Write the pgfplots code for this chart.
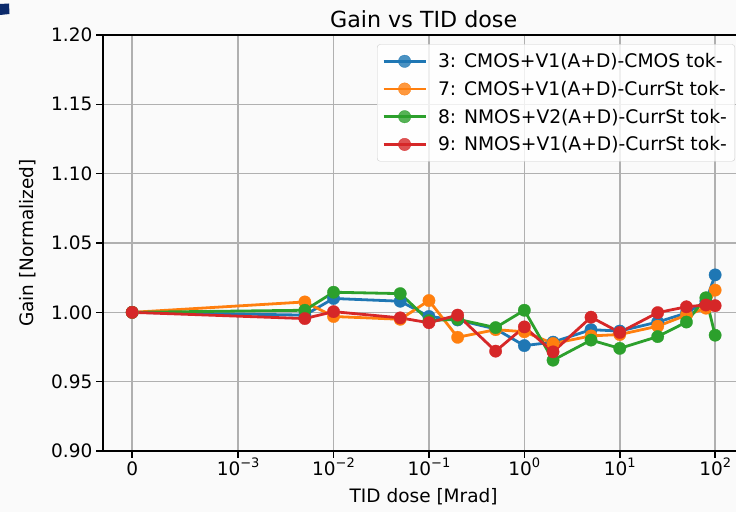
\documentclass[border=0pt]{standalone}
\usepackage{fontspec}
\setmainfont{DejaVu Sans}
\usepackage{pgfplots}
\pgfplotsset{compat=1.18}
\usepackage{pgfplotstable}
\definecolor{tabblue}{HTML}{1F77B4}
\definecolor{taborange}{HTML}{FF7F0E}
\definecolor{tabgreen}{HTML}{2CA02C}
\definecolor{tabred}{HTML}{D62728}
\definecolor{gridgray}{HTML}{B0B0B0}
\definecolor{bgc}{HTML}{FAFAFA}
\definecolor{navy}{HTML}{0B2A6B}
\newcommand\tp[1]{10\raisebox{0.42em}{\fontsize{13}{13}\selectfont #1}}
% pos = symlog position (linthresh 1e-3): 0 -> 0, x -> 1.1111+log10(x/1e-3)
\pgfplotstableread{
pos    dose   blue    orange  green   red
0      0      1.000   1.000   1.000   1.000
1.810  0.005  0.998   1.0075  1.0015  0.9955
2.111  0.01   1.010   0.997   1.0145  1.0005
2.810  0.05   1.008   0.995   1.0135  0.996
3.111  0.1    0.997   1.0085  0.994   0.9925
3.412  0.2    0.9945  0.982   0.995   0.998
3.810  0.5    0.988   0.9875  0.989   0.972
4.111  1      0.976   0.986   1.0015  0.9895
4.412  2      0.9785  0.9775  0.9655  0.9715
4.810  5      0.9875  0.983   0.980   0.9965
5.111  10     0.9865  0.984   0.974   0.9855
5.509  25     0.993   0.990   0.9825  0.9998
5.810  50     0.9995  0.998   0.993   1.004
6.014  80     1.008   1.003   1.0105  1.0053
6.111  100    1.027   1.016   0.9835  1.0048
}\data
\begin{document}
\begin{tikzpicture}
\useasboundingbox (0,0) rectangle (736pt,512pt);
\fill[bgc] (0,0) rectangle (736pt,512pt);
\fill[navy] (0pt,497pt) -- (9.5pt,498pt) -- (9pt,508.5pt) -- (0pt,508pt) -- cycle;
\begin{axis}[
  at={(103pt,61pt)}, anchor=south west,
  scale only axis, width=641.3pt, height=416pt,
  xmin=-0.3056, xmax=6.4167, ymin=0.9, ymax=1.2,
  xtick={0,1.1111,2.1111,3.1111,4.1111,5.1111,6.1111},
  xticklabels={0,\tp{−3},\tp{−2},\tp{−1},\tp{0},\tp{1},\tp{2}},
  ytick={0.90,0.95,1.00,1.05,1.10,1.15,1.20},
  /pgf/number format/fixed, /pgf/number format/fixed zerofill,
  /pgf/number format/precision=2, /pgf/number format/assume math mode=true,
  tick label style={font=\fontsize{18.5}{22}\selectfont},
  xticklabel style={text height=17pt, text depth=3pt, inner sep=1pt},
  yticklabel style={inner sep=4pt},
  xtick pos=lower, ytick pos=left,
  tick align=outside, major tick length=6.5pt,
  tick style={black, line width=1.5pt},
  axis line style={line width=1.8pt},
  grid=major, grid style={color=gridgray, line width=1.5pt},
  axis background/.style={fill=bgc},
  title={Gain vs TID dose},
  title style={font=\fontsize{22.2}{26}\selectfont, yshift=-2pt},
  xlabel={TID dose [Mrad]},
  ylabel={Gain [Normalized]},
  label style={font=\fontsize{18.5}{22}\selectfont},
  xlabel style={yshift=-5pt},
  ylabel style={yshift=8pt},
  legend cell align=left,
  legend style={at={(1,1)}, anchor=north east, xshift=-9.25pt, yshift=-9.25pt,
    draw=black!20, rounded corners=3pt, fill=white, fill opacity=0.8, text opacity=1,
    font=\fontsize{18.7}{22}\selectfont, inner xsep=5pt, inner ysep=6pt,
    row sep=6pt, column sep=8pt, nodes={inner sep=3pt}},
  legend image code/.code={\draw[mark repeat=2,mark phase=2,#1] plot coordinates {(0pt,0pt) (21pt,0pt) (42pt,0pt)};},
  every axis plot/.append style={line width=2.8pt, line join=round, mark=*, mark size=6.2pt},
]
\addplot[color=tabblue, mark options={solid, line width=0.3pt, fill=tabblue, draw=tabblue}] table[x=pos, y=blue] {\data};
\addlegendentry{3: CMOS+V1(A+D)-CMOS tok-}
\addplot[color=taborange, mark options={solid, line width=0.3pt, fill=taborange, draw=taborange}] table[x=pos, y=orange] {\data};
\addlegendentry{7: CMOS+V1(A+D)-CurrSt tok-}
\addplot[color=tabgreen, mark options={solid, line width=0.3pt, fill=tabgreen, draw=tabgreen}] table[x=pos, y=green] {\data};
\addlegendentry{8: NMOS+V2(A+D)-CurrSt tok-}
\addplot[color=tabred, mark options={solid, line width=0.3pt, fill=tabred, draw=tabred}] table[x=pos, y=red] {\data};
\addlegendentry{9: NMOS+V1(A+D)-CurrSt tok-}
\end{axis}
\end{tikzpicture}
\end{document}
